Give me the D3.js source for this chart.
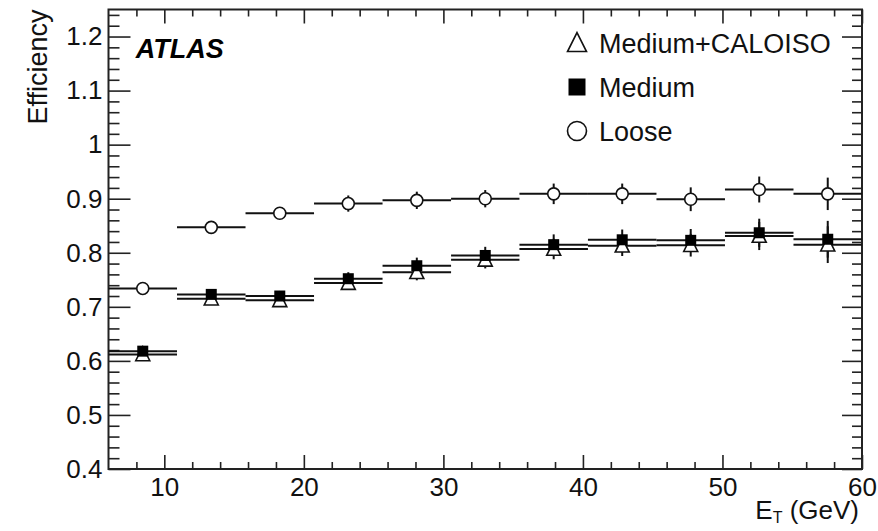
<!DOCTYPE html>
<html>
<head>
<meta charset="utf-8">
<script src="https://cdn.jsdelivr.net/npm/d3@7"></script>
<style>
  body { margin: 0; background: #fff; }
  svg { display: block; font-family: "Liberation Sans", Arial, sans-serif; }
  .axis path, .axis line { stroke: #222; }
</style>
</head>
<body>
<svg id="chart" width="878" height="531"></svg>
<script>
//

const etEdges = [6, 10.91, 15.82, 20.73, 25.64, 30.55, 35.45, 40.36, 45.27, 50.18, 55.09, 60]

const looseEff = [0.734, 0.847, 0.873, 0.891, 0.897, 0.900, 0.909, 0.909, 0.899, 0.917, 0.909]
const looseErr = [0.006, 0.006, 0.008, 0.015, 0.016, 0.016, 0.019, 0.019, 0.022, 0.024, 0.030]

const mediumEff = [0.618, 0.723, 0.720, 0.752, 0.776, 0.795, 0.815, 0.824, 0.823, 0.837, 0.825]
const mediumErr = [0.008, 0.008, 0.009, 0.012, 0.015, 0.016, 0.019, 0.019, 0.021, 0.026, 0.034]

const caloisoEff = [0.612, 0.715, 0.712, 0.744, 0.764, 0.787, 0.807, 0.813, 0.814, 0.831, 0.815]
const caloisoErr = [0.008, 0.008, 0.009, 0.012, 0.015, 0.016, 0.019, 0.019, 0.021, 0.026, 0.034]

const xTicks = [10, 20, 30, 40, 50, 60]
const yTicks = [0.4, 0.5, 0.6, 0.7, 0.8, 0.9, 1, 1.1, 1.2]

const legendLabels = ['Medium+CALOISO', 'Medium', 'Loose']

//

const margin = {top: 9.5, right: 16, bottom: 62, left: 108.5}
const width = 878 - margin.left - margin.right
const height = 531 - margin.top - margin.bottom

const svg = d3.select('#chart')
const g = svg.append('g')
  .attr('transform', `translate(${margin.left},${margin.top})`)

const x = d3.scaleLinear().domain([6, 60]).range([0, width])
const y = d3.scaleLinear().domain([0.4, 1.25]).range([height, 0])

const xMinor = d3.range(8, 60, 2).filter((v) => v % 10 !== 0)
const yMinor = d3.range(0.42, 1.25, 0.02).filter((v) => Math.abs(v * 10 - Math.round(v * 10)) > 0.01)

// axes: ticks inward on all four sides, ROOT style
const fmtY = (d) => (d === 1 ? '1' : d3.format('.1f')(d))

g.append('g').attr('class', 'axis')
  .attr('transform', `translate(0,${height})`)
  .call(d3.axisBottom(x).tickValues(xTicks).tickSize(-14).tickPadding(9).tickFormat(d3.format('d')))
  .call((s) => s.select('.domain').remove())
  .selectAll('text').attr('font-size', 26).attr('fill', '#111')

g.append('g').attr('class', 'axis')
  .attr('transform', `translate(0,${height})`)
  .call(d3.axisBottom(x).tickValues(xMinor).tickSize(-7).tickFormat(''))
  .call((s) => s.select('.domain').remove())

g.append('g').attr('class', 'axis')
  .call(d3.axisTop(x).tickValues(xTicks).tickSize(-14).tickFormat(''))
  .call((s) => s.select('.domain').remove())
g.append('g').attr('class', 'axis')
  .call(d3.axisTop(x).tickValues(xMinor).tickSize(-7).tickFormat(''))
  .call((s) => s.select('.domain').remove())

g.append('g').attr('class', 'axis')
  .call(d3.axisLeft(y).tickValues(yTicks).tickSize(-22).tickPadding(6).tickFormat(fmtY))
  .call((s) => s.select('.domain').remove())
  .selectAll('text').attr('font-size', 26).attr('fill', '#111')
g.append('g').attr('class', 'axis')
  .call(d3.axisLeft(y).tickValues(yMinor).tickSize(-11).tickFormat(''))
  .call((s) => s.select('.domain').remove())

g.append('g').attr('class', 'axis')
  .attr('transform', `translate(${width},0)`)
  .call(d3.axisRight(y).tickValues(yTicks).tickSize(-20).tickFormat(''))
  .call((s) => s.select('.domain').remove())
g.append('g').attr('class', 'axis')
  .attr('transform', `translate(${width},0)`)
  .call(d3.axisRight(y).tickValues(yMinor).tickSize(-10).tickFormat(''))
  .call((s) => s.select('.domain').remove())

g.selectAll('.axis line').attr('stroke-width', 1.6)

g.append('rect')
  .attr('width', width)
  .attr('height', height)
  .attr('fill', 'none')
  .attr('stroke', '#222')
  .attr('stroke-width', 2)

// titles
svg.append('text')
  .attr('transform', `translate(47,${margin.top})rotate(-90)`)
  .attr('text-anchor', 'end')
  .attr('font-size', 27)
  .attr('fill', '#111')
  .text('Efficiency')

const xTitle = svg.append('text')
  .attr('x', margin.left + width - 3)
  .attr('y', 519)
  .attr('text-anchor', 'end')
  .attr('font-size', 26)
  .attr('fill', '#111')
xTitle.append('tspan').text('E')
xTitle.append('tspan').attr('font-size', 16).attr('dy', 4).text('T')
xTitle.append('tspan').attr('dy', -4).text(' (GeV)')

g.append('text')
  .attr('x', x(7.95))
  .attr('y', y(1.16))
  .attr('font-size', 27)
  .attr('font-weight', 'bold')
  .attr('font-style', 'italic')
  .attr('fill', '#000')
  .text('ATLAS')

//

const bins = d3.range(looseEff.length).map((i) => ({
  lo: etEdges[i],
  hi: etEdges[i + 1],
  mid: (etEdges[i] + etEdges[i + 1]) / 2
}))

const series = [
  {key: 'caloiso', eff: caloisoEff, err: caloisoErr},
  {key: 'medium', eff: mediumEff, err: mediumErr},
  {key: 'loose', eff: looseEff, err: looseErr}
]

const triPath = (s) => `M0,${-s * 0.55}L${s / 2},${s * 0.45}L${-s / 2},${s * 0.45}Z`

const drawBars = (sr) => {
  const gs = g.append('g').attr('class', `bars-${sr.key}`)
  gs.selectAll('line.h')
    .data(bins)
    .join('line')
    .attr('class', 'h')
    .attr('x1', (d) => x(d.lo))
    .attr('x2', (d) => x(d.hi))
    .attr('y1', (d, i) => y(sr.eff[i]))
    .attr('y2', (d, i) => y(sr.eff[i]))
    .attr('stroke', '#111')
    .attr('stroke-width', 2)
  gs.selectAll('line.v')
    .data(bins)
    .join('line')
    .attr('class', 'v')
    .attr('x1', (d) => x(d.mid))
    .attr('x2', (d) => x(d.mid))
    .attr('y1', (d, i) => y(sr.eff[i] - sr.err[i]))
    .attr('y2', (d, i) => y(sr.eff[i] + sr.err[i]))
    .attr('stroke', '#111')
    .attr('stroke-width', 2)
}

series.forEach(drawBars)

const markerDraw = {
  caloiso: (sel, s) => sel.append('path').attr('d', triPath(s))
    .attr('fill', '#fff').attr('stroke', '#111').attr('stroke-width', 1.6),
  medium: (sel, s) => sel.append('rect').attr('x', -s / 2).attr('y', -s / 2)
    .attr('width', s).attr('height', s).attr('fill', '#000'),
  loose: (sel, s) => sel.append('circle').attr('r', s / 2)
    .attr('fill', '#fff').attr('stroke', '#111').attr('stroke-width', 1.6)
}
const markerSize = {caloiso: 14, medium: 11, loose: 12}

series.forEach((sr) => {
  g.append('g')
    .selectAll('g')
    .data(bins)
    .join('g')
    .attr('transform', (d, i) => `translate(${x(d.mid)},${y(sr.eff[i])})`)
    .each(function () { markerDraw[sr.key](d3.select(this), markerSize[sr.key]) })
})

// legend
const legendSize = {caloiso: 19, medium: 17, loose: 19}
const legend = svg.append('g').attr('transform', 'translate(577,43)')
const legendKeys = ['caloiso', 'medium', 'loose']
legendLabels.forEach((label, i) => {
  const row = legend.append('g').attr('transform', `translate(0,${i * 44})`)
  markerDraw[legendKeys[i]](row, legendSize[legendKeys[i]])
  row.append('text')
    .attr('x', 22)
    .attr('y', 9.5)
    .attr('font-size', 27)
    .attr('fill', '#111')
    .text(label)
})
</script>
</body>
</html>
